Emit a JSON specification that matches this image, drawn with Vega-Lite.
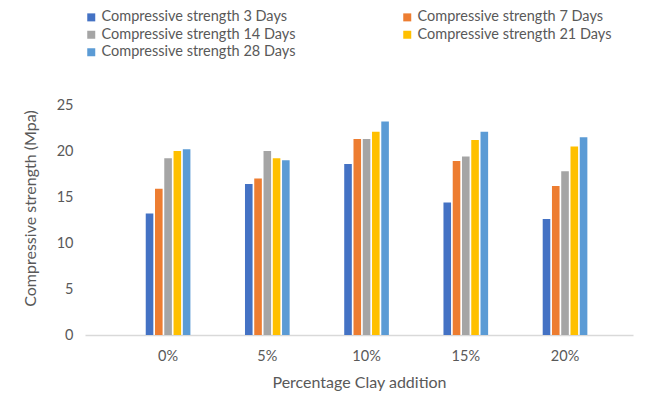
{
  "$schema": "https://vega.github.io/schema/vega-lite/v6.json",
  "width": 548,
  "height": 230,
  "autosize": {"type": "none"},
  "padding": {"left": 85, "top": 105, "right": 12, "bottom": 68},
  "background": "white",
  "data": {
    "values": [
      {"clay": "0%", "series": "Compressive strength  3 Days", "strength": 13.2},
      {"clay": "0%", "series": "Compressive strength  7 Days", "strength": 15.9},
      {"clay": "0%", "series": "Compressive strength  14 Days", "strength": 19.2},
      {"clay": "0%", "series": "Compressive strength  21 Days", "strength": 20.0},
      {"clay": "0%", "series": "Compressive strength  28 Days", "strength": 20.2},
      {"clay": "5%", "series": "Compressive strength  3 Days", "strength": 16.4},
      {"clay": "5%", "series": "Compressive strength  7 Days", "strength": 17.0},
      {"clay": "5%", "series": "Compressive strength  14 Days", "strength": 20.0},
      {"clay": "5%", "series": "Compressive strength  21 Days", "strength": 19.2},
      {"clay": "5%", "series": "Compressive strength  28 Days", "strength": 19.0},
      {"clay": "10%", "series": "Compressive strength  3 Days", "strength": 18.6},
      {"clay": "10%", "series": "Compressive strength  7 Days", "strength": 21.3},
      {"clay": "10%", "series": "Compressive strength  14 Days", "strength": 21.3},
      {"clay": "10%", "series": "Compressive strength  21 Days", "strength": 22.1},
      {"clay": "10%", "series": "Compressive strength  28 Days", "strength": 23.2},
      {"clay": "15%", "series": "Compressive strength  3 Days", "strength": 14.4},
      {"clay": "15%", "series": "Compressive strength  7 Days", "strength": 18.9},
      {"clay": "15%", "series": "Compressive strength  14 Days", "strength": 19.4},
      {"clay": "15%", "series": "Compressive strength  21 Days", "strength": 21.2},
      {"clay": "15%", "series": "Compressive strength  28 Days", "strength": 22.1},
      {"clay": "20%", "series": "Compressive strength  3 Days", "strength": 12.6},
      {"clay": "20%", "series": "Compressive strength  7 Days", "strength": 16.2},
      {"clay": "20%", "series": "Compressive strength  14 Days", "strength": 17.8},
      {"clay": "20%", "series": "Compressive strength  21 Days", "strength": 20.5},
      {"clay": "20%", "series": "Compressive strength  28 Days", "strength": 21.5}
    ]
  },
  "mark": {"type": "bar"},
  "encoding": {
    "x": {
      "field": "clay",
      "type": "nominal",
      "sort": ["0%", "5%", "10%", "15%", "20%"],
      "scale": {"paddingInner": 0.55, "paddingOuter": 0.536, "align": 0.571},
      "axis": {
        "title": "Percentage Clay addition",
        "labelAngle": 0,
        "labelFont": "Lato",
        "labelFontSize": 14.5,
        "labelColor": "#595959",
        "labelPadding": 14,
        "titleFont": "Lato",
        "titleFontSize": 16,
        "titleFontWeight": "normal",
        "titleColor": "#595959",
        "titlePadding": 12,
        "ticks": false,
        "domainColor": "#D9D9D9",
        "domainWidth": 1.5
      }
    },
    "xOffset": {
      "field": "series",
      "type": "nominal",
      "sort": ["Compressive strength  3 Days", "Compressive strength  7 Days", "Compressive strength  14 Days", "Compressive strength  21 Days", "Compressive strength  28 Days"],
      "scale": {"paddingInner": 0.18}
    },
    "y": {
      "field": "strength",
      "type": "quantitative",
      "scale": {"domain": [0, 25]},
      "axis": {
        "title": "Compressive strength (Mpa)",
        "values": [0, 5, 10, 15, 20, 25],
        "grid": false,
        "domain": false,
        "ticks": false,
        "labelFont": "Lato",
        "labelFontSize": 14.5,
        "labelColor": "#595959",
        "labelPadding": 12,
        "titleFont": "Lato",
        "titleFontSize": 16,
        "titleFontWeight": "normal",
        "titleColor": "#595959",
        "titlePadding": 18,
        "titleY": 103
      }
    },
    "color": {
      "field": "series",
      "type": "nominal",
      "scale": {
        "domain": ["Compressive strength  3 Days", "Compressive strength  7 Days", "Compressive strength  14 Days", "Compressive strength  21 Days", "Compressive strength  28 Days"],
        "range": ["#4472C4", "#ED7D31", "#A5A5A5", "#FFC000", "#5B9BD5"]
      },
      "legend": {
        "title": null,
        "orient": "none",
        "legendX": -1,
        "legendY": -95,
        "columns": 2,
        "columnPadding": 100,
        "rowPadding": 2.5,
        "values": ["Compressive strength  3 Days", "Compressive strength  14 Days", "Compressive strength  28 Days", "Compressive strength  7 Days", "Compressive strength  21 Days"],
        "symbolType": "square",
        "symbolSize": 64,
        "symbolStrokeWidth": 0,
        "labelFont": "Lato",
        "labelFontSize": 14.5,
        "labelColor": "#595959",
        "labelOffset": 3,
        "labelLimit": 300
      }
    }
  },
  "config": {
    "view": {"stroke": null}
  }
}
